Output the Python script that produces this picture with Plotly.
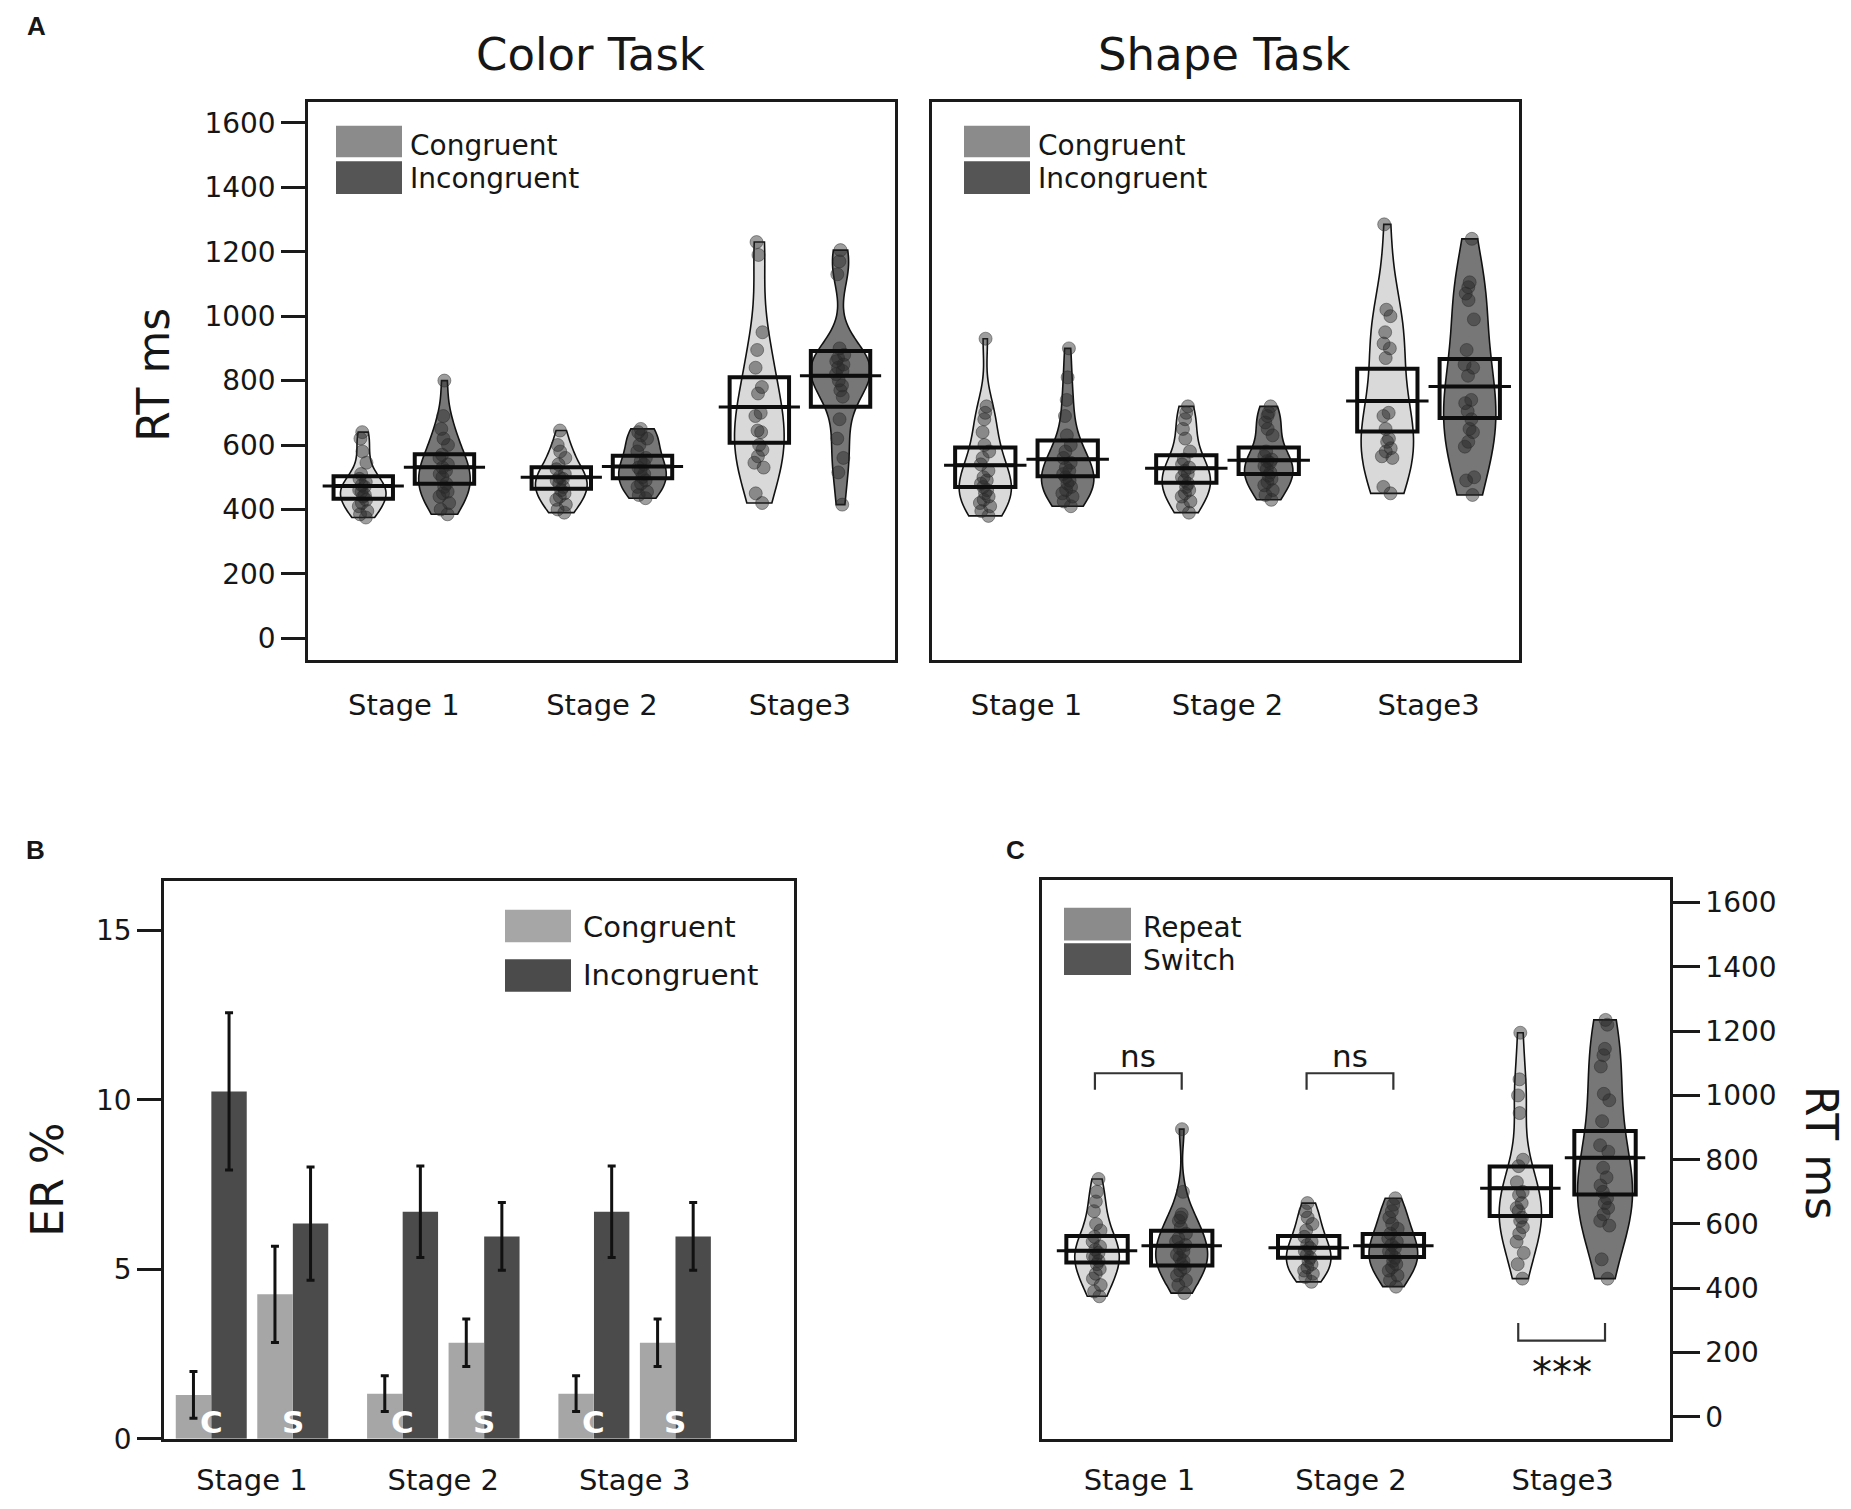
import plotly.graph_objects as go

W, H = 1851, 1509

stages = ["Stage 1", "Stage 2", "Stage3"]
stages_b = ["Stage 1", "Stage 2", "Stage 3"]
rt_ticks = [0, 200, 400, 600, 800, 1000, 1200, 1400, 1600]
er_ticks = [0, 5, 10, 15]

# ---- A: Color task, RT per participant (ms), one list per stage
color_cong = [
    [640, 620, 580, 545, 510, 495, 485, 475, 470, 460, 455, 445, 440, 430, 420, 410, 395, 385, 375],
    [645, 600, 580, 560, 540, 525, 510, 500, 495, 490, 480, 470, 460, 450, 440, 430, 415, 400, 390],
    [1230, 1190, 950, 895, 840, 780, 760, 700, 690, 645, 640, 600, 585, 565, 545, 530, 450, 420],
]
color_incong = [
    [800, 690, 650, 620, 600, 570, 560, 540, 530, 520, 510, 500, 480, 470, 455, 450, 440, 420, 400, 385],
    [650, 640, 630, 620, 600, 580, 560, 550, 540, 530, 520, 510, 500, 490, 480, 470, 455, 445, 435],
    [1205, 1170, 1130, 900, 880, 870, 860, 850, 840, 830, 820, 800, 785, 770, 750, 680, 620, 560, 515, 415],
]
color_cong_mean = [473, 500, 718]
color_cong_lo = [433, 464, 607]
color_cong_hi = [503, 531, 810]
color_incong_mean = [531, 533, 815]
color_incong_lo = [480, 497, 719]
color_incong_hi = [571, 567, 892]

# ---- A: Shape task
shape_cong = [
    [930, 720, 700, 680, 640, 600, 580, 560, 540, 520, 500, 490, 480, 470, 460, 450, 440, 430, 420, 410, 395, 380],
    [720, 700, 680, 650, 620, 580, 555, 540, 530, 520, 510, 500, 490, 480, 470, 460, 450, 440, 425, 410, 390],
    [1285, 1020, 1000, 950, 915, 900, 870, 700, 690, 650, 620, 610, 590, 580, 565, 560, 470, 450],
]
shape_incong = [
    [900, 810, 740, 690, 630, 600, 580, 560, 545, 530, 520, 510, 500, 490, 480, 470, 460, 450, 440, 425, 410],
    [720, 700, 690, 670, 650, 630, 580, 565, 555, 550, 545, 535, 525, 515, 505, 495, 485, 475, 460, 445, 430],
    [1240, 1105, 1090, 1070, 1050, 990, 895, 850, 840, 815, 740, 730, 705, 680, 650, 640, 610, 595, 500, 490, 445],
]
shape_cong_mean = [537, 528, 737]
shape_cong_lo = [470, 483, 642]
shape_cong_hi = [592, 568, 837]
shape_incong_mean = [556, 553, 782]
shape_incong_lo = [503, 510, 684]
shape_incong_hi = [614, 592, 867]

# ---- B: error rates (%)
er_cong = [1.29, 4.26, 1.33, 2.83, 1.33, 2.83]       # C, S per stage
er_cong_err = [0.69, 1.42, 0.53, 0.70, 0.53, 0.70]
er_incong = [10.25, 6.35, 6.70, 5.97, 6.70, 5.97]
er_incong_err = [2.32, 1.67, 1.35, 1.00, 1.35, 1.00]
er_task = ["C", "S"]

# ---- C: repeat / switch RT
rep = [
    [740, 700, 670, 640, 600, 580, 560, 545, 530, 520, 510, 500, 495, 485, 475, 460, 445, 430, 410, 390, 375],
    [665, 640, 620, 600, 580, 560, 545, 535, 525, 515, 505, 495, 485, 475, 465, 455, 445, 435, 420],
    [1195, 1050, 1000, 945, 800, 780, 730, 700, 690, 665, 650, 640, 620, 610, 590, 570, 545, 510, 475, 430],
]
switch = [
    [895, 700, 630, 620, 610, 590, 570, 555, 545, 535, 525, 515, 505, 495, 485, 475, 465, 455, 440, 425, 410, 385],
    [680, 660, 640, 620, 600, 585, 570, 555, 545, 535, 525, 515, 505, 495, 485, 475, 465, 455, 440, 425, 405],
    [1235, 1220, 1145, 1125, 1090, 1005, 985, 920, 845, 825, 775, 745, 720, 700, 680, 665, 650, 630, 610, 595, 490, 430],
]
rep_mean = [517, 526, 711]
rep_lo = [480, 495, 625]
rep_hi = [563, 563, 779]
switch_mean = [532, 532, 806]
switch_lo = [471, 497, 692]
switch_hi = [579, 569, 889]

sig_text = ["ns", "ns", "***"]
sig_size = [31, 31, 40]
sig_leg = [1018, 1018, 292]
sig_bar = [1069, 1069, 237]
sig_label_y = [1123, 1123, 135]

LIGHT_FILL = "#d9d9d9"
DARK_FILL = "#777777"
FONT = "DejaVu Sans"
INK = "#161616"


def px(x):
    return x / W


def py(y):
    return 1 - y / H


fig = go.Figure()


def rt_group(xa, ya, data, mean, lo, hi, off, fill, widths, boxw, linew):
    pos = [i + off for i in range(len(data))]
    for p, vals, wd in zip(pos, data, widths):
        fig.add_trace(go.Violin(
            y=vals, x0=p, xaxis=xa, yaxis=ya, width=wd, spanmode="hard",
            fillcolor=fill, line=dict(color="#111111", width=1.6),
            points="all", pointpos=0, jitter=0.25,
            marker=dict(size=13, color="rgba(40,40,40,0.45)",
                        line=dict(color="rgba(40,40,40,0.45)", width=1)),
            box_visible=False, meanline_visible=False, hoverinfo="skip"))
    fig.add_trace(go.Box(
        x=pos, q1=lo, median=mean, q3=hi, lowerfence=lo, upperfence=hi,
        xaxis=xa, yaxis=ya, width=boxw, whiskerwidth=0,
        fillcolor="rgba(0,0,0,0)", line=dict(color="#0d0d0d", width=4),
        boxpoints=False, hoverinfo="skip"))
    lx, ly = [], []
    for p, m in zip(pos, mean):
        lx += [p - linew / 2, p + linew / 2, None]
        ly += [m, m, None]
    fig.add_trace(go.Scatter(x=lx, y=ly, xaxis=xa, yaxis=ya, mode="lines",
                             line=dict(color="#0d0d0d", width=3), hoverinfo="skip"))


rt_group("x", "y", color_cong, color_cong_mean, color_cong_lo, color_cong_hi,
         -0.205, LIGHT_FILL, [0.23, 0.26, 0.25], 0.30, 0.41)
rt_group("x", "y", color_incong, color_incong_mean, color_incong_lo, color_incong_hi,
         0.205, DARK_FILL, [0.26, 0.24, 0.30], 0.30, 0.41)
rt_group("x2", "y2", shape_cong, shape_cong_mean, shape_cong_lo, shape_cong_hi,
         -0.205, LIGHT_FILL, [0.26, 0.24, 0.26], 0.30, 0.41)
rt_group("x2", "y2", shape_incong, shape_incong_mean, shape_incong_lo, shape_incong_hi,
         0.205, DARK_FILL, [0.26, 0.24, 0.26], 0.30, 0.41)
rt_group("x4", "y4", rep, rep_mean, rep_lo, rep_hi,
         -0.2, LIGHT_FILL, [0.21, 0.21, 0.2], 0.29, 0.38)
rt_group("x4", "y4", switch, switch_mean, switch_lo, switch_hi,
         0.2, DARK_FILL, [0.245, 0.23, 0.26], 0.29, 0.38)

# ---- B bars
bar_off_cong = [-0.306, 0.12]
bar_off_incong = [-0.12, 0.306]
xb_cong = [s + o for s in range(3) for o in bar_off_cong]
xb_incong = [s + o for s in range(3) for o in bar_off_incong]
fig.add_trace(go.Bar(x=xb_cong, y=er_cong, xaxis="x3", yaxis="y3", width=0.185,
                     marker=dict(color="#a6a6a6", line=dict(width=0)),
                     error_y=dict(type="data", array=er_cong_err, color="#111111",
                                  thickness=3, width=4), hoverinfo="skip"))
fig.add_trace(go.Bar(x=xb_incong, y=er_incong, xaxis="x3", yaxis="y3", width=0.185,
                     marker=dict(color="#4b4b4b", line=dict(width=0)),
                     error_y=dict(type="data", array=er_incong_err, color="#111111",
                                  thickness=3, width=4), hoverinfo="skip"))

# ---- C significance brackets
for s, (leg, bar) in enumerate(zip(sig_leg, sig_bar)):
    fig.add_trace(go.Scatter(x=[s - 0.21, s - 0.21, s + 0.2, s + 0.2], y=[leg, bar, bar, leg],
                             xaxis="x4", yaxis="y4", mode="lines",
                             line=dict(color="#333333", width=2.2), hoverinfo="skip"))

annotations = []
for s, (t, ty, fs) in enumerate(zip(sig_text, sig_label_y, sig_size)):
    annotations.append(dict(x=s - 0.005, y=ty, xref="x4", yref="y4", text=t, showarrow=False,
                            font=dict(family=FONT, size=fs, color=INK)))
for s in range(3):
    for o, t in zip([-0.213, 0.213], er_task):
        annotations.append(dict(x=s + o, y=0.5, xref="x3", yref="y3", text="<b>" + t + "</b>",
                                showarrow=False, font=dict(family=FONT, size=31, color="white")))

frame = dict(showline=True, linecolor="#1a1a1a", linewidth=2.5, mirror=True,
             showgrid=False, zeroline=False)
yt = dict(ticks="outside", ticklen=24, tickwidth=2.5, tickcolor="#1a1a1a",
          tickfont=dict(family=FONT, size=28, color=INK))
xt = dict(ticks="", tickfont=dict(family=FONT, size=29, color=INK), tickvals=[0, 1, 2])

fig.update_layout(
    width=W, height=H, margin=dict(l=0, r=0, t=0, b=0),
    paper_bgcolor="white", plot_bgcolor="white", showlegend=False,
    barmode="overlay",
    xaxis=dict(domain=[px(300), px(887)], range=[-0.484, 2.48], ticktext=stages,
               ticklabelstandoff=18, anchor="y", **frame, **xt),
    yaxis=dict(domain=[py(659), py(95)], range=[-66, 1665], tickvals=rt_ticks,
               anchor="x", **frame, **yt),
    xaxis2=dict(domain=[px(924), px(1511)], range=[-0.47, 2.45], ticktext=stages,
                ticklabelstandoff=18, anchor="y2", **frame, **xt),
    yaxis2=dict(domain=[py(659), py(95)], range=[-66, 1665], showticklabels=False,
                ticks="", anchor="x2", **frame),
    xaxis3=dict(domain=[px(156), px(786)], range=[-0.46, 2.833], ticktext=stages_b,
                ticklabelstandoff=14, anchor="y3", **frame, **xt),
    yaxis3=dict(domain=[py(1447), py(883)], range=[0, 16.46], tickvals=er_ticks,
                anchor="x3", **frame, **yt),
    xaxis4=dict(domain=[px(1034), px(1662)], range=[-0.46, 2.507], ticktext=stages,
                ticklabelstandoff=14, anchor="y4", **frame, **xt),
    yaxis4=dict(domain=[py(1447), py(882)], range=[-68, 1670], tickvals=rt_ticks,
                side="right", anchor="x4", **frame, **dict(yt, ticklen=27)),
)


def ptext(x, y, text, size, xanchor="center", angle=0, bold=False, family=FONT):
    annotations.append(dict(x=px(x), y=py(y), xref="paper", yref="paper",
                            text="<b>" + text + "</b>" if bold else text,
                            showarrow=False, xanchor=xanchor, yanchor="middle",
                            textangle=angle, font=dict(family=family, size=size, color=INK)))


# panel letters and titles
ptext(28, 18, "A", 26, bold=True, family="Liberation Sans")
ptext(27, 852, "B", 26, bold=True, family="Liberation Sans")
ptext(1007, 852, "C", 26, bold=True, family="Liberation Sans")
ptext(582, 47, "Color Task", 45)
ptext(1216, 47, "Shape Task", 45)
ptext(146, 371, "RT ms", 44, angle=-90)
ptext(40, 1185, "ER %", 44, angle=-90)
ptext(1813, 1158, "RT ms", 44, angle=90)

shapes = []


def swatch(x0, y0, x1, y1, color):
    shapes.append(dict(type="rect", xref="paper", yref="paper", x0=px(x0), x1=px(x1),
                       y0=py(y1), y1=py(y0), fillcolor=color, line=dict(width=0), layer="above"))


# legends
for lx in (328, 956):
    swatch(lx, 119, lx + 66, 151, "#8b8b8b")
    swatch(lx, 155, lx + 66, 188, "#555555")
    ptext(lx + 72, 139, "Congruent", 28, xanchor="left")
    ptext(lx + 72, 172, "Incongruent", 28, xanchor="left")

swatch(497, 912, 563, 945, "#a6a6a6")
swatch(497, 962, 563, 995, "#4b4b4b")
ptext(573, 929, "Congruent", 29, xanchor="left")
ptext(573, 978, "Incongruent", 29, xanchor="left")

swatch(1056, 910, 1123, 943, "#8b8b8b")
swatch(1056, 946, 1123, 978, "#555555")
ptext(1133, 930, "Repeat", 28, xanchor="left")
ptext(1133, 963, "Switch", 28, xanchor="left")

fig.update_layout(annotations=annotations, shapes=shapes)
fig.write_html("out.html")
